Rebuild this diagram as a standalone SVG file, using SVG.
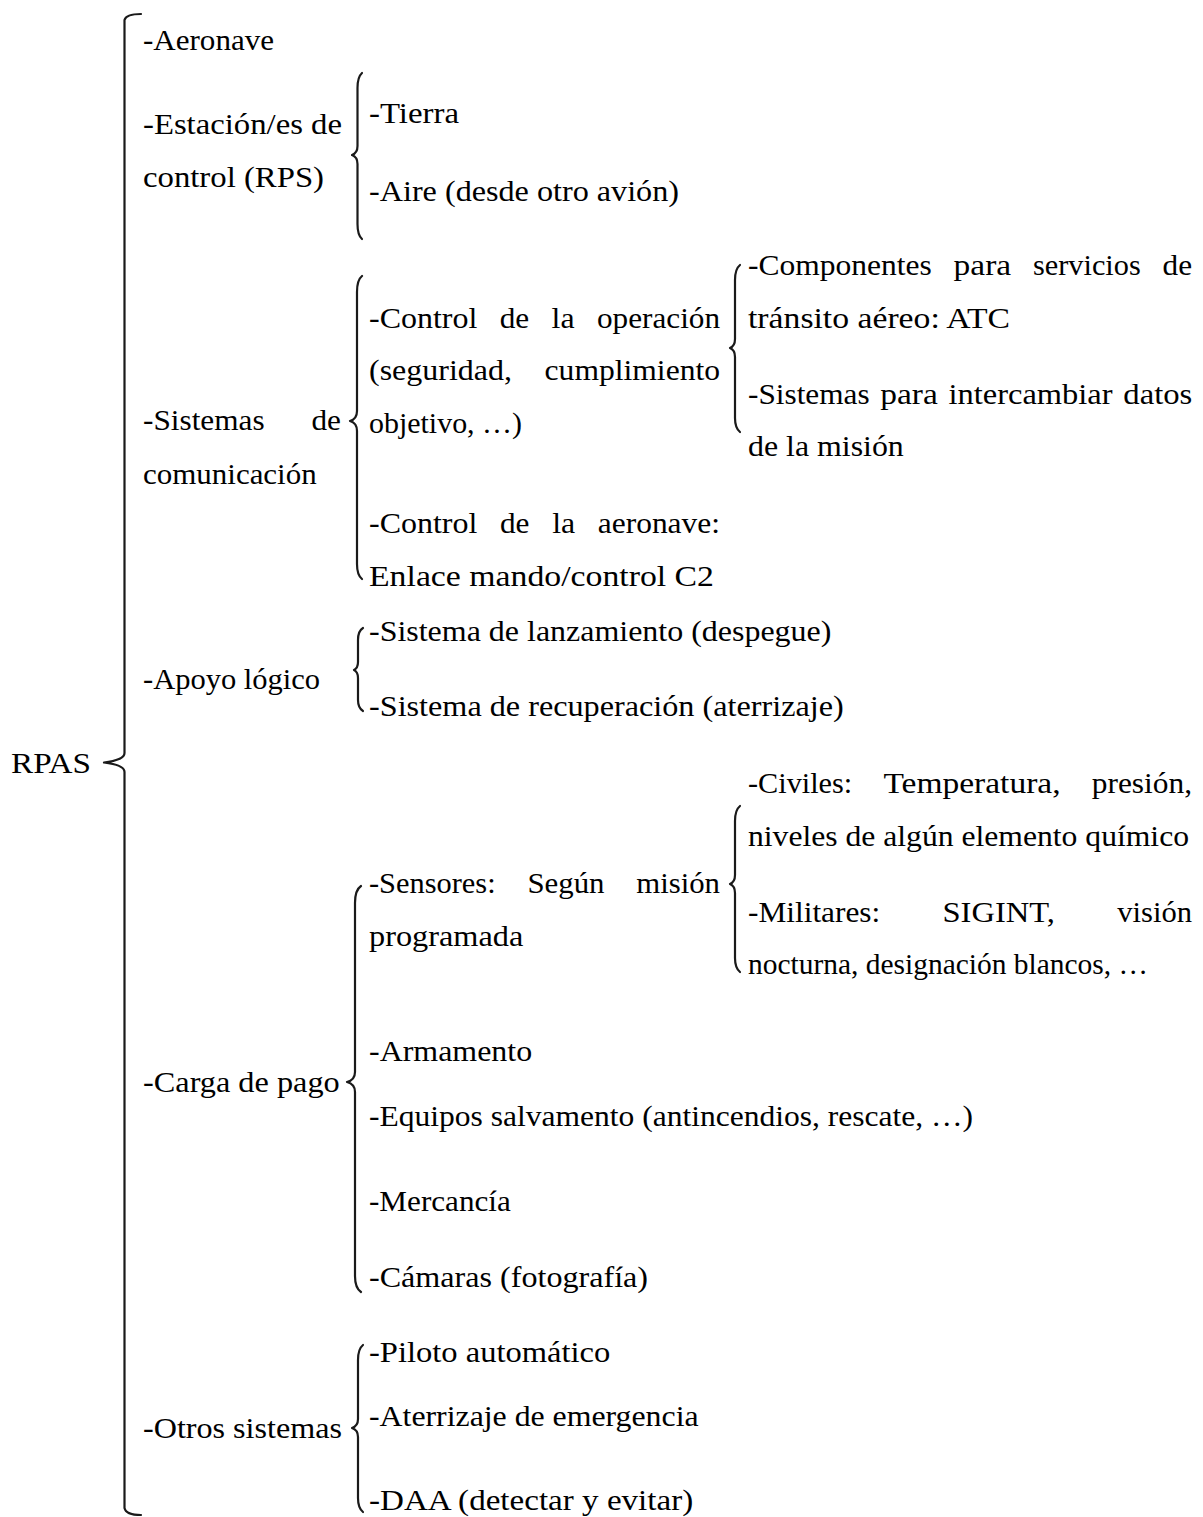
<svg xmlns="http://www.w3.org/2000/svg" width="1203" height="1517" viewBox="0 0 1203 1517">
<style>
.tx text{font-size:30px;fill:#000}
.b{fill:none;stroke:#1a1a1a;stroke-width:2.2;stroke-linecap:round;stroke-linejoin:round}
</style>
<rect width="1203" height="1517" fill="#fff"/>
<g id="connectors">
<path class="b" d="M141,14 Q126,14 124.5,20 L124.5,753 Q124.5,760 104,762.5 Q124.5,765 124.5,772 L124.5,1508 Q126,1515 141,1515"/>
<path class="b" d="M362,73 Q357.5,77 357.5,88 L357.5,146 Q357.5,153 352,155 Q357.5,157 357.5,164 L357.5,224 Q357.5,235 362,239"/>
<path class="b" d="M362,276 Q357,280 357,292 L357,411 Q357,419 350,421 Q357,423 357,431 L357,564 Q357,575 362,579"/>
<path class="b" d="M740,265 Q735,269 735,280 L735,339 Q735,346 730,348 Q735,350 735,357 L735,418 Q735,428 740,432"/>
<path class="b" d="M363,628 Q358,631 358,640 L358,662 Q358,668 354,670 Q358,672 358,678 L358,700 Q358,708 363,711"/>
<path class="b" d="M740,806 Q735,810 735,821 L735,875 Q735,882 730,884 Q735,886 735,893 L735,958 Q735,968 740,972"/>
<path class="b" d="M361,886 Q355,890 355,903 L355,1072 Q355,1080 347,1082 Q355,1084 355,1092 L355,1276 Q355,1288 361,1292"/>
<path class="b" d="M363,1345 Q358,1349 358,1360 L358,1419 Q358,1426 352,1428 Q358,1430 358,1437 L358,1498 Q358,1508 363,1512"/>
</g>
<g class="tx" font-family="Liberation Serif, Times New Roman, serif">
<g id="n-rpas"><text x="11" y="773" textLength="80" lengthAdjust="spacingAndGlyphs">RPAS</text></g>
<g id="n-aeronave"><text x="143" y="50" textLength="131" lengthAdjust="spacingAndGlyphs">-Aeronave</text></g>
<g id="n-estacion">
<text x="143" y="134" textLength="199" lengthAdjust="spacingAndGlyphs">-Estación/es de</text>
<text x="143" y="187" textLength="181" lengthAdjust="spacingAndGlyphs">control (RPS)</text>
</g>
<g id="n-tierra"><text x="369" y="123" textLength="90" lengthAdjust="spacingAndGlyphs">-Tierra</text></g>
<g id="n-aire"><text x="369" y="201" textLength="310" lengthAdjust="spacingAndGlyphs">-Aire (desde otro avión)</text></g>
<g id="n-comunicacion">
<text x="143" y="430" textLength="121.6" lengthAdjust="spacingAndGlyphs">-Sistemas</text>
<text x="311.5" y="430" textLength="29.5" lengthAdjust="spacingAndGlyphs">de</text>
<text x="143" y="484" textLength="173.7" lengthAdjust="spacingAndGlyphs">comunicación</text>
</g>
<g id="n-operacion">
<text x="369" y="328" textLength="108.3" lengthAdjust="spacingAndGlyphs">-Control</text>
<text x="499.7" y="328" textLength="29.5" lengthAdjust="spacingAndGlyphs">de</text>
<text x="551.6" y="328" textLength="23" lengthAdjust="spacingAndGlyphs">la</text>
<text x="597" y="328" textLength="123" lengthAdjust="spacingAndGlyphs">operación</text>
<text x="369" y="380" textLength="142.9" lengthAdjust="spacingAndGlyphs">(seguridad,</text>
<text x="544.6" y="380" textLength="175.4" lengthAdjust="spacingAndGlyphs">cumplimiento</text>
<text x="369" y="433" textLength="153" lengthAdjust="spacingAndGlyphs">objetivo, …)</text>
</g>
<g id="n-atc">
<text x="748" y="275" textLength="183.7" lengthAdjust="spacingAndGlyphs">-Componentes</text>
<text x="953.6" y="275" textLength="57.5" lengthAdjust="spacingAndGlyphs">para</text>
<text x="1033" y="275" textLength="107.7" lengthAdjust="spacingAndGlyphs">servicios</text>
<text x="1162.6" y="275" textLength="29.5" lengthAdjust="spacingAndGlyphs">de</text>
<text x="748" y="328" textLength="262" lengthAdjust="spacingAndGlyphs">tránsito aéreo: ATC</text>
</g>
<g id="n-datos">
<text x="748" y="404" textLength="121.6" lengthAdjust="spacingAndGlyphs">-Sistemas</text>
<text x="880.3" y="404" textLength="57.5" lengthAdjust="spacingAndGlyphs">para</text>
<text x="948.5" y="404" textLength="164.1" lengthAdjust="spacingAndGlyphs">intercambiar</text>
<text x="1123.3" y="404" textLength="69" lengthAdjust="spacingAndGlyphs">datos</text>
<text x="748" y="456" textLength="155.8" lengthAdjust="spacingAndGlyphs">de la misión</text>
</g>
<g id="n-control-aeronave">
<text x="369" y="533" textLength="108.3" lengthAdjust="spacingAndGlyphs">-Control</text>
<text x="500" y="533" textLength="29.5" lengthAdjust="spacingAndGlyphs">de</text>
<text x="552.2" y="533" textLength="23" lengthAdjust="spacingAndGlyphs">la</text>
<text x="597.8" y="533" textLength="122.2" lengthAdjust="spacingAndGlyphs">aeronave:</text>
<text x="369" y="586" textLength="345" lengthAdjust="spacingAndGlyphs">Enlace mando/control C2</text>
</g>
<g id="n-apoyo"><text x="143" y="689" textLength="177" lengthAdjust="spacingAndGlyphs">-Apoyo lógico</text></g>
<g id="n-lanzamiento"><text x="369" y="641" textLength="462.4" lengthAdjust="spacingAndGlyphs">-Sistema de lanzamiento (despegue)</text></g>
<g id="n-recuperacion"><text x="369" y="716" textLength="474.7" lengthAdjust="spacingAndGlyphs">-Sistema de recuperación (aterrizaje)</text></g>
<g id="n-carga"><text x="143" y="1092" textLength="196.7" lengthAdjust="spacingAndGlyphs">-Carga de pago</text></g>
<g id="n-sensores">
<text x="369" y="893" textLength="126.6" lengthAdjust="spacingAndGlyphs">-Sensores:</text>
<text x="527.4" y="893" textLength="77.1" lengthAdjust="spacingAndGlyphs">Según</text>
<text x="636.2" y="893" textLength="83.8" lengthAdjust="spacingAndGlyphs">misión</text>
<text x="369" y="946" textLength="154.3" lengthAdjust="spacingAndGlyphs">programada</text>
</g>
<g id="n-civiles">
<text x="748" y="793" textLength="104.2" lengthAdjust="spacingAndGlyphs">-Civiles:</text>
<text x="883.4" y="793" textLength="177.2" lengthAdjust="spacingAndGlyphs">Temperatura,</text>
<text x="1091.8" y="793" textLength="100.2" lengthAdjust="spacingAndGlyphs">presión,</text>
<text x="748" y="846" textLength="441" lengthAdjust="spacingAndGlyphs">niveles de algún elemento químico</text>
</g>
<g id="n-militares">
<text x="748" y="922" textLength="132.2" lengthAdjust="spacingAndGlyphs">-Militares:</text>
<text x="942.5" y="922" textLength="112.5" lengthAdjust="spacingAndGlyphs">SIGINT,</text>
<text x="1117.2" y="922" textLength="74.8" lengthAdjust="spacingAndGlyphs">visión</text>
<text x="748" y="974" textLength="400" lengthAdjust="spacingAndGlyphs">nocturna, designación blancos, …</text>
</g>
<g id="n-armamento"><text x="369" y="1061" textLength="163.1" lengthAdjust="spacingAndGlyphs">-Armamento</text></g>
<g id="n-equipos"><text x="369" y="1126" textLength="604" lengthAdjust="spacingAndGlyphs">-Equipos salvamento (antincendios, rescate, …)</text></g>
<g id="n-mercancia"><text x="369" y="1211" textLength="141.8" lengthAdjust="spacingAndGlyphs">-Mercancía</text></g>
<g id="n-camaras"><text x="369" y="1287" textLength="279" lengthAdjust="spacingAndGlyphs">-Cámaras (fotografía)</text></g>
<g id="n-otros"><text x="143" y="1438" textLength="199" lengthAdjust="spacingAndGlyphs">-Otros sistemas</text></g>
<g id="n-piloto"><text x="369" y="1362" textLength="241.3" lengthAdjust="spacingAndGlyphs">-Piloto automático</text></g>
<g id="n-aterrizaje"><text x="369" y="1426" textLength="329.6" lengthAdjust="spacingAndGlyphs">-Aterrizaje de emergencia</text></g>
<g id="n-daa"><text x="369" y="1510" textLength="324.2" lengthAdjust="spacingAndGlyphs">-DAA (detectar y evitar)</text></g>
</g>
</svg>
